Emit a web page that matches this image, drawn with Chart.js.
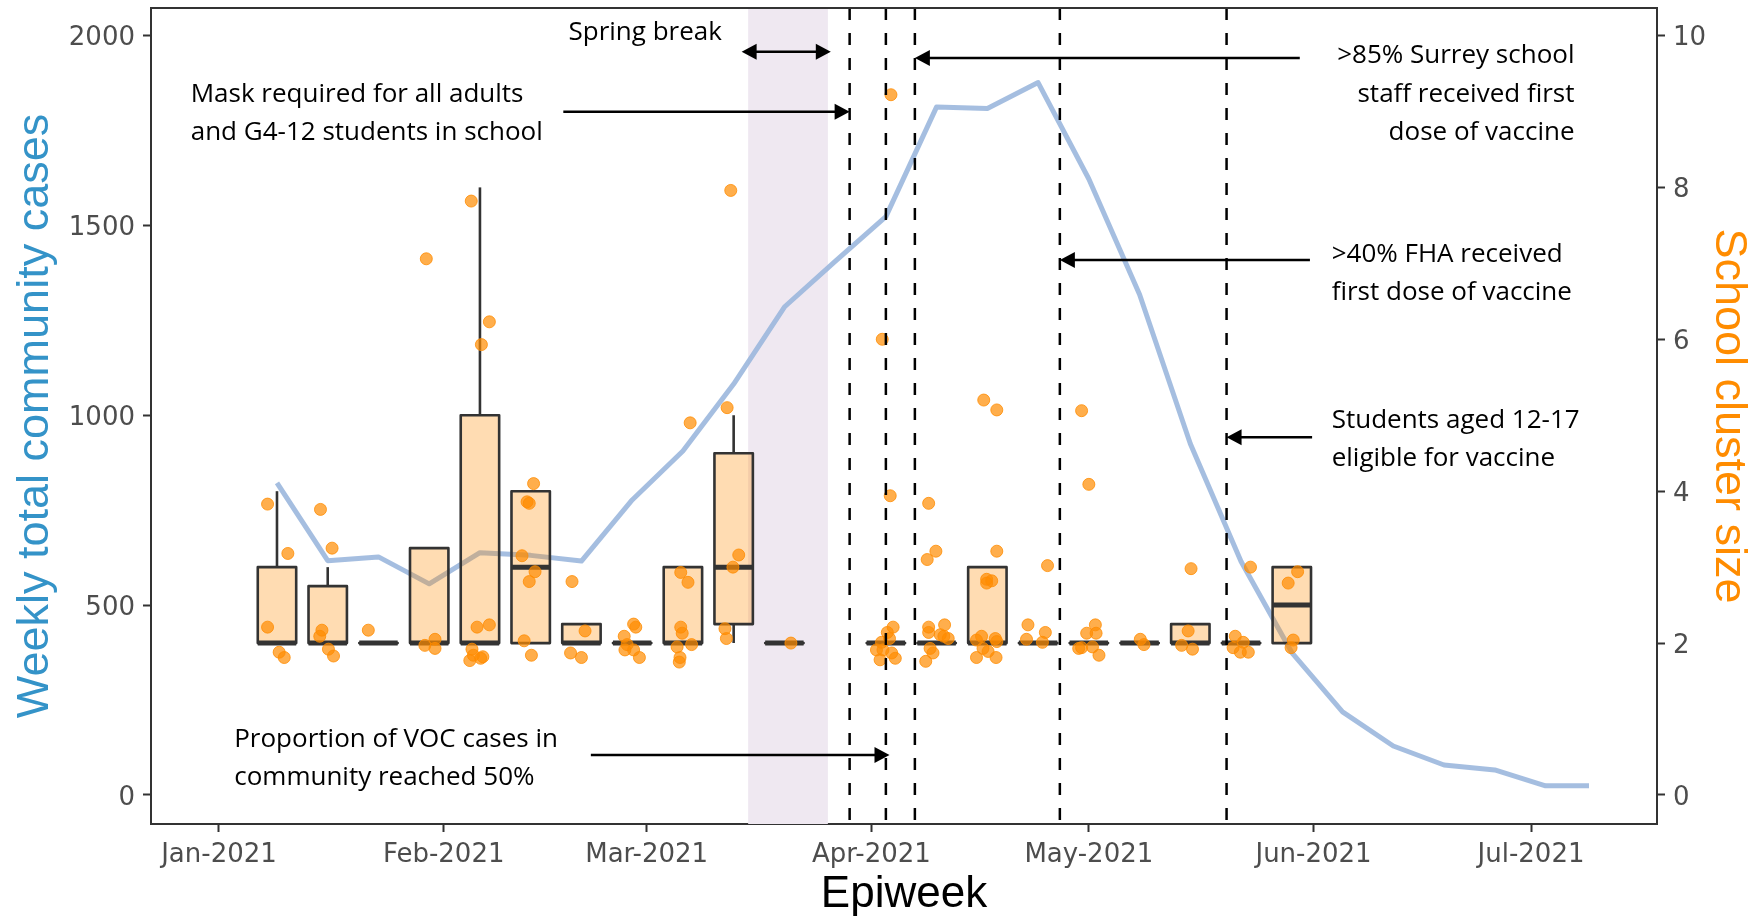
<!DOCTYPE html>
<html>
<head>
<meta charset="utf-8">
<script src="https://cdn.jsdelivr.net/npm/chart.js@4.4.1/dist/chart.umd.min.js"></script>
<style>
  html, body { margin: 0; padding: 0; background: #fff; }
  #wrap { width: 1755px; height: 920px; }
</style>
</head>
<body>
<div id="wrap"><canvas id="chart"></canvas></div>
<script>
// x values are days counted from 1 Jan 2021
const monthDays = [0, 31, 59, 90, 120, 151, 181];
const monthLabels = ['Jan-2021', 'Feb-2021', 'Mar-2021', 'Apr-2021', 'May-2021', 'Jun-2021', 'Jul-2021'];
const caseTicks = [0, 500, 1000, 1500, 2000];
const sizeTicks = [0, 2, 4, 6, 8, 10];

// weekly total community cases
const weekDays = [8, 15, 22, 29, 36, 43, 50, 57, 64, 71, 78, 85, 92, 99, 106, 113, 120, 127, 134, 141, 148, 155, 162, 169, 176, 183, 189];
const weeklyCases = [822, 617, 627, 556, 638, 631, 616, 777, 906, 1082, 1285, 1405, 1523, 1812, 1808, 1876, 1622, 1318, 925, 615, 375, 219, 129, 79, 66, 24, 24];

// school cluster size boxplots, one per epiweek
const boxDays   = [8, 15, 22, 29, 36, 43, 50, 57, 64, 71, 78, 92, 99, 106, 113, 120, 127, 134, 141, 148];
const boxLow    = [2, 2, 2, 2, 2, 2, 2, 2, 2, 2, 2, 2, 2, 2, 2, 2, 2, 2, 2, 2];
const boxQ1     = [2, 2, 2, 2, 2, 2, 2, 2, 2, 2.25, 2, 2, 2, 2, 2, 2, 2, 2, 2, 2];
const boxMedian = [2, 2, 2, 2, 2, 3, 2, 2, 2, 3, 2, 2, 2, 2, 2, 2, 2, 2, 2, 2.5];
const boxQ3     = [3, 2.75, 2, 3.25, 5, 4, 2.25, 2, 3, 4.5, 2, 2, 2, 3, 2, 2, 2, 2.25, 2, 3];
const boxHigh   = [4, 3, 2, 3.25, 8, 4, 2.25, 2, 3, 5, 2, 2, 2, 3, 2, 2, 2, 2.25, 2, 3];

// individual clusters (jittered as in the figure)
const dotDays = [
  6.7, 9.5, 6.7, 8.3, 9.0,
  14.0, 15.6, 14.2, 13.9, 15.1, 15.8,
  20.6,
  28.6, 28.4, 29.8, 29.8,
  34.8, 37.3, 36.2, 35.6, 37.3, 34.9, 35.1, 34.6, 36.1, 36.4,
  43.4, 42.5, 42.8, 41.8, 43.6, 42.8, 42.1, 43.1,
  48.7, 50.5, 48.5, 50.0,
  57.2, 57.5, 55.9, 56.3, 56.0, 57.2, 58.0,
  65.0, 63.7, 64.7, 63.7, 63.9, 63.2, 65.2, 63.6, 63.5,
  70.6, 70.1, 71.7, 70.9, 69.8, 70.0,
  78.9,
  92.7, 91.5, 92.6, 93.0, 92.2, 92.5, 91.4, 90.7, 91.6, 91.2, 92.8, 93.3,
  97.9, 98.9, 97.7, 97.9, 97.9, 100.1, 99.5, 100.6, 98.1, 98.5, 97.5, 100.0,
  105.5, 107.3, 107.3, 105.9, 106.6, 105.9, 104.5, 105.2, 107.1, 105.4, 106.1, 104.5, 107.2, 107.3,
  114.3, 111.6, 111.4, 114.0, 113.6,
  119.0, 120.0, 118.6, 120.9, 119.7, 121.0, 119.0, 120.5, 121.4,
  127.1, 127.6,
  134.1, 133.7, 132.8, 134.3,
  142.3, 140.2, 141.3, 139.9, 140.9, 142.0,
  148.8, 147.5, 148.2, 147.9
];
const dotSizes = [
  3.83, 3.18, 2.21, 1.88, 1.81,
  3.76, 3.25, 2.17, 2.09, 1.92, 1.83,
  2.17,
  7.06, 1.97, 2.05, 1.93,
  7.82, 6.23, 5.93, 2.21, 2.24, 1.92, 1.84, 1.77, 1.80, 1.82,
  4.10, 3.86, 3.84, 3.15, 2.94, 2.81, 2.03, 1.84,
  2.81, 2.16, 1.87, 1.81,
  2.25, 2.21, 2.09, 1.98, 1.91, 1.91, 1.81,
  4.90, 2.93, 2.80, 2.21, 2.13, 1.95, 1.98, 1.81, 1.75,
  7.96, 5.10, 3.16, 3.00, 2.19, 2.06,
  2.00,
  9.22, 6.00, 3.94, 2.21, 2.14, 2.06, 2.01, 1.91, 1.91, 1.78, 1.87, 1.80,
  3.84, 3.21, 3.10, 2.21, 2.14, 2.24, 2.11, 2.06, 1.93, 1.87, 1.76, 2.09,
  5.20, 5.07, 3.21, 2.84, 2.82, 2.79, 2.04, 2.09, 2.06, 1.93, 1.89, 1.81, 1.81, 2.02,
  3.02, 2.24, 2.05, 2.14, 2.01,
  5.06, 4.09, 1.93, 2.24, 2.13, 2.13, 1.94, 1.95, 1.84,
  2.05, 1.98,
  2.98, 2.16, 1.97, 1.92,
  3.00, 2.09, 2.01, 1.94, 1.88, 1.88,
  2.94, 2.79, 2.04, 1.94
];

const springBreak = [73, 84];
const eventDays = [87, 92, 96, 116, 139];

// text notes, anchored at (day, weekly cases) of the first baseline
const notes = [
  { lines: ['Spring break'], day: 58.8, value: 1989, align: 'center' },
  { lines: ['Mask required for all adults', 'and G4-12 students in school'], day: -3.9, value: 1826, align: 'left' },
  { lines: ['Proportion of VOC cases in', 'community reached 50%'], day: 2.1, value: 127, align: 'left' },
  { lines: ['>85% Surrey school', 'staff received first', 'dose of vaccine'], day: 187.0, value: 1927, align: 'right' },
  { lines: ['>40% FHA received', 'first dose of vaccine'], day: 153.5, value: 1404, align: 'left' },
  { lines: ['Students aged 12-17', 'eligible for vaccine'], day: 153.5, value: 966, align: 'left' }
];
const arrows = [
  { from: 72.1, to: 84.4, value: 1957, both: true },
  { from: 47.5, to: 87.0, value: 1799 },
  { from: 51.3, to: 92.5, value: 105 },
  { from: 149.1, to: 96.0, value: 1941 },
  { from: 150.5, to: 116.0, value: 1409 },
  { from: 150.8, to: 139.0, value: 942 }
];

const BOX_WIDTH_DAYS = 5.3;
const INK = '#333333';
const TICK_FONT = { family: 'DejaVu Sans', size: 26 };

function arrowHead(ctx, x, y, dir) {
  ctx.beginPath();
  ctx.moveTo(x, y);
  ctx.lineTo(x - dir * 15, y - 8);
  ctx.lineTo(x - dir * 15, y + 8);
  ctx.closePath();
  ctx.fill();
}

const overlay = {
  id: 'overlay',
  beforeDatasetsDraw(chart) {
    const { ctx, chartArea: a, scales: { x } } = chart;
    const x0 = x.getPixelForValue(springBreak[0]);
    const x1 = x.getPixelForValue(springBreak[1]);
    ctx.save();
    ctx.fillStyle = '#EFE8F1';
    ctx.fillRect(x0, a.top, x1 - x0, a.bottom - a.top);
    ctx.restore();
  },
  afterDatasetDraw(chart, args) {
    if (args.index !== 0) return;
    const { ctx, scales: { x, y2 } } = chart;
    const half = (x.getPixelForValue(BOX_WIDTH_DAYS) - x.getPixelForValue(0)) / 2;
    ctx.save();
    ctx.strokeStyle = INK;
    ctx.lineJoin = 'round';
    boxDays.forEach((d, i) => {
      const cx = x.getPixelForValue(d);
      const pLo = y2.getPixelForValue(boxLow[i]);
      const pQ1 = y2.getPixelForValue(boxQ1[i]);
      const pMed = y2.getPixelForValue(boxMedian[i]);
      const pQ3 = y2.getPixelForValue(boxQ3[i]);
      const pHi = y2.getPixelForValue(boxHigh[i]);
      ctx.lineWidth = 2.6;
      ctx.beginPath();
      ctx.moveTo(cx, pQ3); ctx.lineTo(cx, pHi);
      ctx.moveTo(cx, pQ1); ctx.lineTo(cx, pLo);
      ctx.stroke();
      ctx.fillStyle = 'rgba(255,140,0,0.3)';
      ctx.fillRect(cx - half, pQ3, 2 * half, pQ1 - pQ3);
      ctx.strokeRect(cx - half, pQ3, 2 * half, pQ1 - pQ3);
      ctx.lineWidth = 5;
      ctx.beginPath();
      ctx.moveTo(cx - half, pMed); ctx.lineTo(cx + half, pMed);
      ctx.stroke();
    });
    ctx.restore();
  },
  afterDatasetsDraw(chart) {
    const { ctx, chartArea: a, scales: { x, y } } = chart;
    ctx.save();
    // event lines
    ctx.strokeStyle = '#000';
    ctx.lineWidth = 2.5;
    ctx.setLineDash([12, 13]);
    eventDays.forEach(d => {
      const px = x.getPixelForValue(d);
      ctx.beginPath();
      ctx.moveTo(px, a.top);
      ctx.lineTo(px, a.bottom);
      ctx.stroke();
    });
    ctx.setLineDash([]);
    // arrows
    ctx.fillStyle = '#000';
    arrows.forEach(ar => {
      const p0 = x.getPixelForValue(ar.from);
      const p1 = x.getPixelForValue(ar.to);
      const py = y.getPixelForValue(ar.value);
      const dir = Math.sign(p1 - p0);
      ctx.beginPath();
      ctx.moveTo(ar.both ? p0 + dir * 10 : p0, py);
      ctx.lineTo(p1 - dir * 10, py);
      ctx.stroke();
      arrowHead(ctx, p1, py, dir);
      if (ar.both) arrowHead(ctx, p0, py, -dir);
    });
    // notes
    ctx.font = '26px "Open Sans"';
    ctx.textBaseline = 'alphabetic';
    notes.forEach(n => {
      const px = x.getPixelForValue(n.day);
      const py = y.getPixelForValue(n.value);
      ctx.textAlign = n.align;
      n.lines.forEach((t, k) => ctx.fillText(t, px, py + k * 38.3));
    });
    // top frame
    ctx.strokeStyle = INK;
    ctx.lineWidth = 2;
    ctx.beginPath();
    ctx.moveTo(a.left, a.top);
    ctx.lineTo(a.right, a.top);
    ctx.stroke();
    ctx.restore();
  }
};

const axisGrid = { display: true, drawOnChartArea: false, drawTicks: true, tickLength: 8, tickWidth: 2, tickColor: INK };
const axisBorder = { display: true, color: INK, width: 2 };

new Chart(document.getElementById('chart'), {
  data: {
    datasets: [
      {
        type: 'line',
        data: weekDays.map((d, i) => ({ x: d, y: weeklyCases[i] })),
        xAxisID: 'x',
        yAxisID: 'y',
        borderColor: 'rgba(155,183,221,0.9)',
        borderWidth: 5,
        borderJoinStyle: 'round',
        pointRadius: 0,
        tension: 0,
        order: 2
      },
      {
        type: 'scatter',
        data: dotDays.map((d, i) => ({ x: d, y: dotSizes[i] })),
        xAxisID: 'x',
        yAxisID: 'y2',
        pointRadius: 6,
        backgroundColor: 'rgba(255,140,0,0.7)',
        borderColor: 'rgba(255,140,0,0.8)',
        borderWidth: 1,
        order: 1
      }
    ]
  },
  options: {
    responsive: true,
    maintainAspectRatio: false,
    animation: false,
    devicePixelRatio: 1,
    layout: { padding: { top: 8, left: 0, right: 0, bottom: 0 } },
    plugins: { legend: { display: false }, tooltip: { enabled: false } },
    scales: {
      x: {
        type: 'linear',
        position: 'bottom',
        min: -9.38,
        max: 198.38,
        afterBuildTicks: s => { s.ticks = monthDays.map(v => ({ value: v })); },
        ticks: { callback: (v, i) => monthLabels[i], font: TICK_FONT, color: '#4D4D4D', padding: 8, maxRotation: 0, autoSkip: false },
        grid: axisGrid,
        border: axisBorder,
        title: { display: true, text: 'Epiweek', color: '#000', font: { family: 'Liberation Sans', size: 44, lineHeight: 1 }, padding: { top: 0, bottom: 3 } },
        afterFit: s => { s.height = 96; s.paddingLeft = 0; s.paddingRight = 0; }
      },
      y: {
        type: 'linear',
        position: 'left',
        min: -76.4,
        max: 2072.4,
        afterBuildTicks: s => { s.ticks = caseTicks.map(v => ({ value: v })); },
        ticks: { callback: v => String(v), font: TICK_FONT, color: '#4D4D4D', padding: 8, labelOffset: 3 },
        grid: axisGrid,
        border: axisBorder,
        title: { display: true, text: 'Weekly total community cases', color: '#3493C8', font: { family: 'Liberation Sans', size: 45, lineHeight: 1 }, padding: { top: 13, bottom: 0 } },
        afterFit: s => { s.width = 151; s.paddingTop = 0; s.paddingBottom = 0; }
      },
      y2: {
        type: 'linear',
        position: 'right',
        min: -0.382,
        max: 10.362,
        afterBuildTicks: s => { s.ticks = sizeTicks.map(v => ({ value: v })); },
        ticks: { callback: v => String(v), font: TICK_FONT, color: '#4D4D4D', padding: 8, labelOffset: 3 },
        grid: axisGrid,
        border: axisBorder,
        title: { display: true, text: 'School cluster size', color: '#FF8C00', font: { family: 'Liberation Sans', size: 45, lineHeight: 1 }, padding: { top: 4, bottom: 0 } },
        afterFit: s => { s.width = 98; s.paddingTop = 0; s.paddingBottom = 0; }
      }
    }
  },
  plugins: [overlay]
});
</script>
</body>
</html>
